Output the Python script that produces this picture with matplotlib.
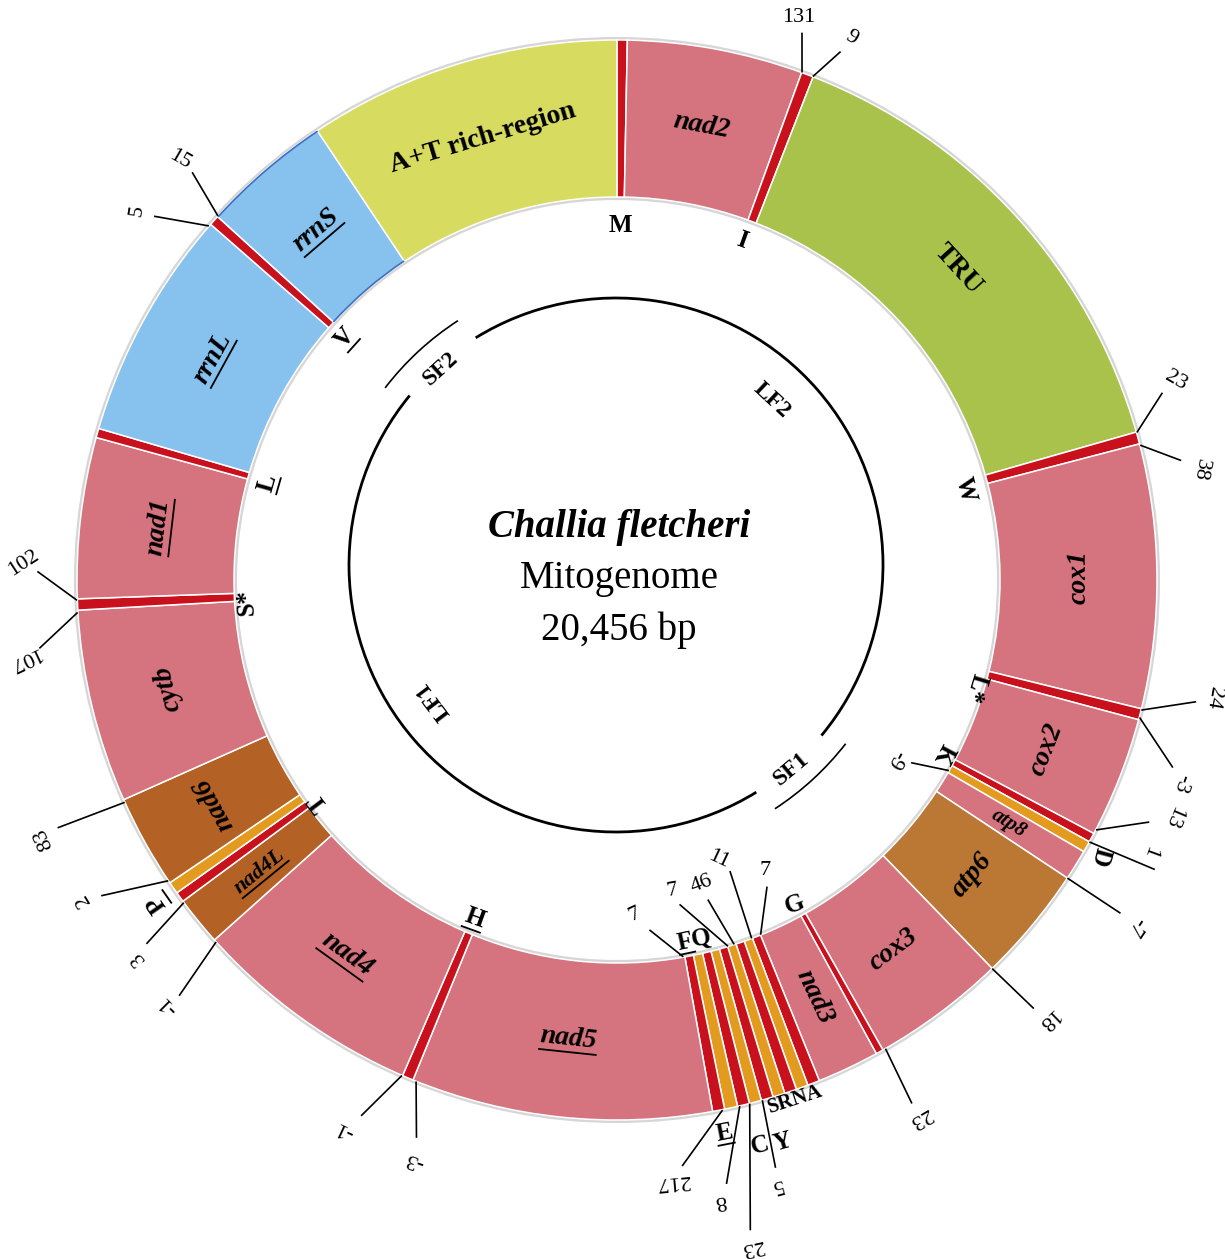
import numpy as np
import matplotlib
matplotlib.use("Agg")
import matplotlib.pyplot as plt
from matplotlib.patches import Wedge, Arc, Circle

W_PX, H_PX = 1225, 1259
SERIF = "Liberation Serif"

# ---------------- genome map data (degrees, clockwise from top) ----------------
gene_names = ["trnM", "nad2", "trnI", "TRU", "trnW", "cox1", "trnL2", "cox2",
              "trnK", "trnD", "atp8", "atp6", "cox3", "trnG", "nad3",
              "trnA", "trnR", "trnN", "trnS1", "trnY", "trnC", "trnE", "trnQ", "trnF",
              "nad5", "trnH", "nad4", "nad4L", "trnT", "trnP", "nad6", "cob",
              "trnS2", "nad1", "trnL1", "rrnL", "trnV", "rrnS", "A+T"]
gene_start = [0.0, 1.1, 20.0, 21.3, 74.1, 75.4, 103.8, 105.0,
              118.0, 119.0, 120.2, 123.5, 136.0, 150.5, 151.3,
              158.0, 159.3, 160.6, 161.9, 163.2, 164.5, 165.8, 167.1, 168.5,
              169.8, 202.2, 203.4, 228.2, 233.5, 234.6, 235.9, 246.0,
              266.8, 268.0, 285.3, 286.3, 311.2, 312.3, 326.3]
gene_end = [1.1, 20.0, 21.3, 74.1, 75.4, 103.8, 105.0, 118.0,
            119.0, 120.2, 123.5, 136.0, 150.5, 151.3, 158.0,
            159.3, 160.6, 161.9, 163.2, 164.5, 165.8, 167.1, 168.5, 169.8,
            202.2, 203.4, 228.2, 233.5, 234.6, 235.9, 246.0, 266.8,
            268.0, 285.3, 286.3, 311.2, 312.3, 326.3, 360.0]
gene_kind = ["red", "pcg", "red", "tru", "red", "pcg", "red", "pcg",
             "red", "orange", "pcg", "atp", "pcg", "red", "pcg",
             "red", "orange", "red", "orange", "red", "orange", "red", "orange", "red",
             "pcg", "red", "pcg", "nad", "red", "orange", "nad", "pcg",
             "red", "pcg", "red", "rrna", "red", "rrna", "atr"]

# labels written inside the ring
label_gene = ["nad2", "TRU", "cox1", "cox2", "atp8", "atp6", "cox3", "nad3", "nad5",
              "nad4", "nad4L", "nad6", "cob", "nad1", "rrnL", "rrnS", "A+T"]
label_text = ["nad2", "TRU", "cox1", "cox2", "atp8", "atp6", "cox3", "nad3", "nad5",
              "nad4", "nad4L", "nad6", "cytb", "nad1", "rrnL", "rrnS", "A+T rich-region"]
label_underlined = ["nad5", "nad4", "nad4L", "nad1", "rrnL", "rrnS"]

# tRNA names: text, angle, radius, rotation, underlined chars
trna_text = ["M", "I", "W", "L*", "K", "D", "G", "FQ", "SRNA", "Y", "C", "E",
             "H", "T", "P", "S*", "L", "V"]
trna_theta = [0.5, 20.2, 75.5, 106.7, 118.0, 119.8, 151.3, 167.8, 161.0, 163.6, 165.8, 169.0,
              202.8, 233.4, 234.9, 266.6, 285.5, 311.7]
trna_r = [355, 362, 360, 374, 370, 557, 370, 368, 549, 586, 583, 563,
          367, 372, 562, 371, 363, 364]
trna_rot = [0, -20, -75, -107, -118, -105, 20, 12, 18, 16, 14, 11,
            -20, 127, 125, 93, 74, 48]
trna_ul = [0, 0, 0, 0, 0, 0, 0, 1, 0, 0, 0, 1, 1, 0, 1, 0, 1, 1]

# intergenic spacers / overlaps (bp) and the boundary they refer to
spacer_text = ["131", "9", "23", "38", "24", "-3", "-9", "13", "1", "-7", "18", "23",
               "217", "8", "23", "5", "7", "7", "46", "11", "7",
               "-3", "-1", "-1", "3", "2", "83", "102", "107", "5", "15"]
spacer_at = [20.0, 21.3, 74.1, 75.6, 103.9, 104.8, 119.9, 117.5, 119.0, 123.5, 136.0, 150.2,
             168.8, 166.9, 165.8, 164.4, 170.1, 163.2, 162.2, 159.4, 157.9,
             201.8, 203.5, 227.9, 233.3, 236.2, 245.7, 267.9, 266.5, 310.9, 312.4]
spacer_rim = ["o", "o", "o", "o", "o", "o", "i", "o", "o", "o", "o", "o",
              "o", "o", "o", "o", "i", "i", "i", "i", "i",
              "o", "o", "o", "o", "o", "o", "o", "o", "o", "o"]
# leader line end (angle, radius), label (angle, radius, rotation)
lead_theta = [18.7, 22.9, 71.1, 78.0, 101.9, 108.6, 121.8, 114.5, 118.3, 123.5, 135.8, 150.6,
              173.6, 169.7, 168.4, 164.9, 174.6, 169.0, 164.1, 158.8, 154.0,
              199.8, 205.5, 226.5, 232.3, 238.5, 246.1, 270.8, 263.3, 308.2, 313.8]
lead_r = [577, 573, 576, 576, 591, 586, 347, 584, 610, 603, 597, 600,
          589, 613, 663, 608, 352, 331, 333, 313, 342,
          592, 593, 603, 594, 604, 611, 579, 581, 588, 588]
tag_theta = [17.9, 23.4, 70.4, 79.3, 101.2, 109.8, 122.8, 113.1, 117.0, 123.7, 135.6, 150.6,
             174.7, 170.5, 168.5, 165.2, 177.0, 170.0, 164.4, 160.0, 152.9,
             199.2, 206.4, 226.6, 231.7, 239.1, 245.7, 271.6, 262.5, 307.6, 313.9]
tag_r = [591, 591, 593, 594, 608, 600, 331, 604, 598, 624, 615, 617,
         604, 629, 680, 626, 335, 315, 316, 297, 326,
         614, 613, 618, 610, 622, 629, 594, 598, 606, 606]
tag_rot = [0, -30, -30, -100, -100, -110, -120, -113, -110, -124, -136, -150,
           -175, -170, -168, -165, 25, 10, 20, -25, 0,
           160, 155, 135, 130, 121, 114, 33, -155, 80, -30]

# inner fragment circle: main arcs LF2 / LF1, short arcs SF2 / SF1
frag_names = ["LF2", "LF1", "SF2", "SF1"]
frag_start = [-31.7, 148.3, -52.5, 127.9]
frag_end = [129.7, 309.4, -32.9, 146.9]

colors = {"pcg": "#d5747e", "red": "#c8111c", "orange": "#e39b1f", "rrna": "#86c2ed",
          "tru": "#a9c24c", "atr": "#d7dc60", "atp": "#ba7834", "nad": "#b36124"}

# ---------------- geometry ----------------
CX, CY = 617, H_PX - 580
R_OUT, R_IN = 540, 383
R_MID = (R_OUT + R_IN) / 2
ICX, ICY, IR, SR = 616, H_PX - 565, 267, 291

fig = plt.figure(figsize=(W_PX / 100, H_PX / 100), dpi=100)
ax = fig.add_axes([0, 0, 1, 1])
ax.set_xlim(0, W_PX)
ax.set_ylim(0, H_PX)
ax.axis("off")
renderer = fig.canvas.get_renderer()


def pt(theta, r, cx=CX, cy=CY):
    t = np.radians(theta)
    return cx + r * np.sin(t), cy + r * np.cos(t)


def text_width(s, size, weight, style):
    tmp = ax.text(0, 0, s, fontsize=size, fontweight=weight, fontstyle=style, family=SERIF)
    w = tmp.get_window_extent(renderer=renderer).width
    tmp.remove()
    return w


def put(x, y, s, rot, size, weight="bold", style="normal", underline=0):
    ax.text(x, y, s, rotation=rot, rotation_mode="anchor", ha="center", va="center",
            fontsize=size, fontweight=weight, fontstyle=style, family=SERIF, zorder=6)
    if underline:
        w_all = text_width(s, size, weight, style)
        w_sub = w_all if underline < 0 else text_width(s[:underline], size, weight, style)
        em = size * 100 / 72
        a = np.radians(rot)
        u = np.array([np.cos(a), np.sin(a)])
        n = np.array([-np.sin(a), np.cos(a)])
        p0 = np.array([x, y]) - u * w_all / 2 - n * 0.47 * em
        p1 = p0 + u * w_sub
        ax.plot([p0[0], p1[0]], [p0[1], p1[1]], color="black", lw=1.3, zorder=6)


# soft shadow on the ring edges
ax.add_patch(Circle((CX, CY), R_OUT + 1.5, fill=False, ec="#d6d6d6", lw=2.2, zorder=1))
ax.add_patch(Circle((CX, CY), R_IN - 1.5, fill=False, ec="#d6d6d6", lw=2.2, zorder=1))

# ring segments
for name, a0, a1, kind in zip(gene_names, gene_start, gene_end, gene_kind):
    w = Wedge((CX, CY), R_OUT, 90 - a1, 90 - a0, width=R_OUT - R_IN,
              fc=colors[kind], ec="white", lw=1.1, zorder=2)
    ax.add_patch(w)
    if name == "rrnS":
        for rr in (R_OUT - 0.5, R_IN + 0.5):
            ax.add_patch(Arc((CX, CY), 2 * rr, 2 * rr, theta1=90 - a1, theta2=90 - a0,
                             color="#3c6fc4", lw=1.2, zorder=3))

# gene names inside the ring
for g, s in zip(label_gene, label_text):
    i = gene_names.index(g)
    th = (gene_start[i] + gene_end[i]) / 2
    if g in ("cox1", "cox2", "atp6", "cox3", "nad5", "nad4"):
        rot = 180 - th
    elif g in ("nad3", "atp8"):
        rot = 90 - th
    elif g == "nad4L":
        rot = 270 - th
    else:
        rot = -th
    x, y = pt(th, R_MID)
    style = "normal" if g in ("TRU", "A+T") else "italic"
    size = 15 if g == "atp8" else (16 if g == "nad4L" else 20)
    put(x, y, s, rot, size, "bold", style, -1 if g in label_underlined else 0)

# tRNA names
for s, th, r, rot, ul in zip(trna_text, trna_theta, trna_r, trna_rot, trna_ul):
    x, y = pt(th, r)
    put(x, y, s, rot, 15 if len(s) > 2 else 18, "bold", "normal", ul)

# spacer / overlap leaders and values
for s, a, rim, lt, lr, tt, tr, rot in zip(spacer_text, spacer_at, spacer_rim, lead_theta,
                                          lead_r, tag_theta, tag_r, tag_rot):
    r0 = R_OUT + 1 if rim == "o" else R_IN - 1
    x0, y0 = pt(a, r0)
    x1, y1 = pt(lt, lr)
    ax.plot([x0, x1], [y0, y1], color="black", lw=1.2, zorder=5)
    xt, yt = pt(tt, tr)
    put(xt, yt, s, rot, 16, "normal", "normal")

# inner fragment circle
for name, a0, a1 in zip(frag_names, frag_start, frag_end):
    rr = IR if name.startswith("L") else SR
    lw = 2.0 if name.startswith("L") else 1.2
    ax.add_patch(Arc((ICX, ICY), 2 * rr, 2 * rr, theta1=90 - a1, theta2=90 - a0,
                     color="black", lw=lw, zorder=4))

frag_lab_theta = [43.4, 233.4, -41.8, 139.4]
frag_lab_r = [226, 227, 263, 269]
frag_lab_rot = [-43, 127, 42, 40]
for s, th, r, rot in zip(frag_names, frag_lab_theta, frag_lab_r, frag_lab_rot):
    x, y = pt(th, r, ICX, ICY)
    put(x, y, s, rot, 17, "bold", "normal")

# title in the middle
ax.text(619, H_PX - 527, "Challia fletcheri", ha="center", va="center", fontsize=28,
        fontweight="bold", fontstyle="italic", family=SERIF)
ax.text(619, H_PX - 578, "Mitogenome", ha="center", va="center", fontsize=28, family=SERIF)
ax.text(619, H_PX - 630, "20,456 bp", ha="center", va="center", fontsize=28, family=SERIF)

fig.savefig("out.png", dpi=100)
